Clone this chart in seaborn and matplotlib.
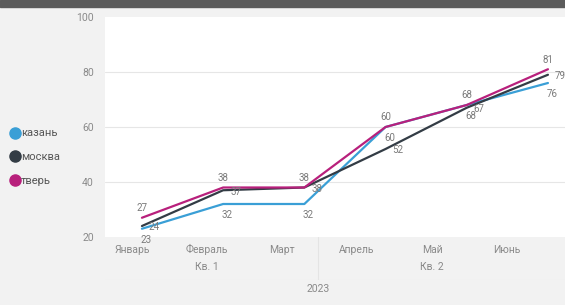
import pandas as pd
import numpy as np
import matplotlib
matplotlib.use('Agg')
import matplotlib.pyplot as plt
from matplotlib.lines import Line2D
from matplotlib.patches import Rectangle
import seaborn as sns

# данные
months = ['Январь', 'Февраль', 'Март', 'Апрель', 'Май', 'Июнь']
quarters = ['Кв. 1', 'Кв. 2']
year = '2023'
cities = ['казань', 'москва', 'тверь']
kazan = [23, 32, 32, 60, 68, 76]
moskva = [24, 37, 38, 52, 67, 79]
tver = [27, 38, 38, 60, 68, 81]
colors = ['#3a9fd6', '#333c45', '#b8207c']

df = pd.DataFrame({
    'pos': list(range(len(months))) * 3,
    'city': np.repeat(cities, len(months)),
    'value': kazan + moskva + tver,
})

sns.set_style('white')
plt.rcParams['font.family'] = ['Roboto', 'DejaVu Sans']

W, H = 565, 305
fig = plt.figure(figsize=(W / 100, H / 100), dpi=100, facecolor='#f2f2f2')

# тёмная полоса сверху
fig.patches.append(Rectangle((0, 1 - 7 / H), 1, 7 / H, transform=fig.transFigure,
                             color='#5b5b5b', zorder=0))

ax = fig.add_axes([105 / W, (H - 237) / H, 460 / W, 220 / H])
ax.set_facecolor('white')
sns.lineplot(data=df, x='pos', y='value', hue='city', hue_order=cities,
             palette=colors, linewidth=1.6, legend=False, ax=ax)
ax.set_xlim(-0.455, 5.21)
ax.set_ylim(20, 100)
ax.set_yticks([20, 40, 60, 80, 100])
ax.tick_params(axis='y', labelsize=7.5, labelcolor='#8a8a8a', length=0, pad=8)
ax.set_xticks([])
ax.set_xlabel('')
ax.set_ylabel('')
for y in [40, 60, 80]:
    ax.axhline(y, color='#e6e6e6', lw=0.8, zorder=0)
for s in ax.spines.values():
    s.set_visible(False)

# подписи данных
offsets = {'казань': (3, -8), 'москва': (9, -1), 'тверь': (0, 7)}
for city, vals in zip(cities, [kazan, moskva, tver]):
    for i, v in enumerate(vals):
        ax.annotate(str(v), (i, v), xytext=offsets[city], textcoords='offset points',
                    ha='center', va='center', fontsize=7, color='#7a7a7a')

# иерархическая ось X
axl = fig.add_axes([105 / W, (H - 280) / H, 460 / W, 43 / H])
axl.set_xlim(-0.36, 5.773)
axl.set_ylim(0, 1)
axl.axis('off')
for i, m in enumerate(months):
    axl.text(i, 0.7, m, ha='center', va='center', fontsize=7.5, color='#8a8a8a')
for q, x in zip(quarters, [1, 4]):
    axl.text(x, 0.3, q, ha='center', va='center', fontsize=7.5, color='#8a8a8a')
axl.axvline(2.48, color='#e4e4e4', lw=0.8)
axl.axhline(0.0, color='#e4e4e4', lw=0.8)
fig.text(318 / W, 1 - 289 / H, year, ha='center', va='center', fontsize=7.5, color='#8a8a8a')

# легенда
handles = [Line2D([], [], marker='o', ls='', color=c, markersize=8) for c in colors]
fig.legend(handles, cities, loc='upper left', bbox_to_anchor=(5 / W, 1 - 124 / H),
           frameon=False, fontsize=8, labelcolor='#555555', handletextpad=0.05,
           handlelength=1.0, labelspacing=1.25, borderaxespad=0)

fig.savefig('out.png', dpi=100, facecolor=fig.get_facecolor())
